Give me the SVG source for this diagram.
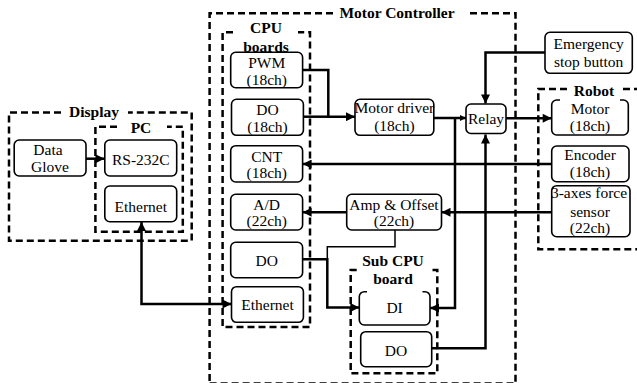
<svg xmlns="http://www.w3.org/2000/svg" width="637" height="383" viewBox="0 0 637 383">
<defs>
<style>
.grp{fill:none;stroke:#000;stroke-width:2.5;stroke-dasharray:7 4}
.box{fill:#fff;stroke:#000;stroke-width:1.6}
.t{font-family:"Liberation Serif","Times New Roman",serif;font-size:15.5px;text-anchor:middle;fill:#000}
.b{font-weight:bold}
.c{fill:none;stroke:#000;stroke-width:2.5}
.thin{fill:none;stroke:#000;stroke-width:1.5}
</style>
<marker id="arr" viewBox="0 0 10 10" refX="10" refY="5" markerWidth="10" markerHeight="9" markerUnits="userSpaceOnUse" orient="auto-start-reverse">
<path d="M0,0 L10,5 L0,10 z" fill="#000"/>
</marker>
<marker id="arrs" viewBox="0 0 10 10" refX="10" refY="5" markerWidth="6" markerHeight="6" markerUnits="userSpaceOnUse" orient="auto">
<path d="M0,0 L10,5 L0,10 z" fill="#000"/>
</marker>
</defs>
<rect width="637" height="383" fill="#fff"/>

<g id="groups">
<path class="grp" d="M333,13.3 H209.6 V390 M470,13.3 H515.5 V390"/>
<path class="grp" d="M209.6,383.6 H515.5" stroke="#888"/>
<text class="t b" x="397" y="18">Motor Controller</text>
<path class="grp" d="M233,32.3 H222.6 V327 H310 V32.3 H298"/>
<text class="t b" x="266" y="33">CPU</text>
<text class="t b" x="266" y="51.5">boards</text>
<path class="grp" d="M61,112.5 H9 V240.7 H191.7 V112.5 H128"/>
<text class="t b" x="94" y="117">Display</text>
<path class="grp" d="M117,126.7 H95.4 V231.7 H182.8 V126.7 H167"/>
<text class="t b" x="141" y="133">PC</text>
<path class="grp" d="M356.7,270 H350.7 V373.3 H437.3 V270 H431.7"/>
<text class="t b" x="393" y="266">Sub CPU</text>
<text class="t b" x="393" y="284">board</text>
<path class="grp" d="M567,89 H538.3 V249.3 H645 M623,89 H645"/>
<text class="t b" x="594" y="96">Robot</text>
</g>

<g id="connectors">
<path class="c" d="M86,158.7 H104.5" marker-end="url(#arr)"/>
<path class="c" d="M231.5,304 H141.5 V222" marker-start="url(#arr)" marker-end="url(#arr)"/>
<path class="c" d="M302.6,70 H328.3 V116.7 H355" marker-end="url(#arr)"/>
<path class="c" d="M303.4,116.7 H328.3"/>
<path class="c" d="M433.8,118 H466" marker-end="url(#arrs)"/>
<path class="c" d="M455,118 V308 H430" marker-end="url(#arr)"/>
<path class="c" d="M506,118.3 H551.7" marker-end="url(#arr)"/>
<path class="c" d="M545,52.5 H485.5 V103.5" marker-end="url(#arr)"/>
<path class="c" d="M551.7,164 H302.6" marker-end="url(#arr)"/>
<path class="c" d="M551.7,212.3 H441.5" marker-end="url(#arr)"/>
<path class="c" d="M346.7,212.3 H302.6" marker-end="url(#arr)"/>
<path class="thin" d="M395,230 V246.7 H327.3 V259.3"/>
<path class="c" d="M302,259.3 H327.3 V307.5 H359.3" marker-end="url(#arr)"/>
<path class="c" d="M431.7,348.3 H485.5 V134.5" marker-end="url(#arr)"/>
</g>

<g id="data-glove"><rect class="box" x="14.2" y="140" width="71.8" height="36" rx="5"/><text class="t" x="48" y="155">Data</text><text class="t" x="50" y="172">Glove</text></g>
<g id="rs232c"><rect class="box" x="104.8" y="140" width="71.9" height="36" rx="5"/><text class="t" x="140.8" y="165">RS-232C</text></g>
<g id="pc-ethernet"><rect class="box" x="104.8" y="186" width="71.9" height="35.7" rx="5"/><text class="t" x="140.8" y="211.5">Ethernet</text></g>

<g id="pwm"><rect class="box" x="230.7" y="52.3" width="71.9" height="35.4" rx="5"/><text class="t" x="266.7" y="68">PWM</text><text class="t" x="266.7" y="84.5">(18ch)</text></g>
<g id="do18"><rect class="box" x="231.5" y="99.3" width="71.9" height="36" rx="5"/><text class="t" x="267.5" y="115">DO</text><text class="t" x="267.5" y="131.5">(18ch)</text></g>
<g id="cnt"><rect class="box" x="230.7" y="145.7" width="71.9" height="36.3" rx="5"/><text class="t" x="266.7" y="161.5">CNT</text><text class="t" x="266.7" y="178">(18ch)</text></g>
<g id="ad"><rect class="box" x="230.7" y="194.3" width="71.9" height="35.7" rx="5"/><text class="t" x="266.7" y="209.5">A/D</text><text class="t" x="266.7" y="226">(22ch)</text></g>
<g id="do-cpu"><rect class="box" x="230.7" y="242.3" width="71.9" height="35.4" rx="5"/><text class="t" x="266.7" y="266">DO</text></g>
<g id="cpu-ethernet"><rect class="box" x="231.5" y="286.7" width="71.9" height="35.6" rx="5"/><text class="t" x="267.5" y="310">Ethernet</text></g>

<g id="motor-driver"><rect class="box" x="355" y="99.3" width="78.8" height="36" rx="5"/><text class="t" x="394.4" y="113">Motor driver</text><text class="t" x="394.4" y="130.5">(18ch)</text></g>
<g id="relay"><rect class="box" x="466" y="104" width="40" height="29.5" rx="5"/><text class="t" x="486" y="123.5">Relay</text></g>
<g id="amp-offset"><rect class="box" x="346.7" y="194.3" width="94.8" height="35.7" rx="5"/><text class="t" x="394" y="209.5">Amp &amp; Offset</text><text class="t" x="394" y="226">(22ch)</text></g>
<g id="di"><path class="box" d="M367,291.7 H364.3 A5,5 0 0 0 359.3,296.7 V320 A5,5 0 0 0 364.3,325 H425 A5,5 0 0 0 430,320 V296.7 A5,5 0 0 0 425,291.7 H422.5" fill="#fff"/><text class="t" x="394.6" y="313">DI</text></g>
<g id="do-sub"><rect class="box" x="360.7" y="331.7" width="71" height="35" rx="5"/><text class="t" x="396" y="356">DO</text></g>

<g id="emergency"><rect class="box" x="545" y="32.3" width="87.3" height="41" rx="5"/><text class="t" x="588.7" y="49.3">Emergency</text><text class="t" x="588.7" y="67">stop button</text></g>
<g id="robot-motor"><path class="box" d="M560,100 H556.7 A5,5 0 0 0 551.7,105 V130 A5,5 0 0 0 556.7,135 H623.3 A5,5 0 0 0 628.3,130 V105 A5,5 0 0 0 623.3,100 H620" fill="#fff"/><text class="t" x="590" y="114.3">Motor</text><text class="t" x="590" y="131">(18ch)</text></g>
<g id="encoder"><rect class="box" x="551.7" y="146" width="77.3" height="35.7" rx="5"/><text class="t" x="590" y="160">Encoder</text><text class="t" x="590" y="177">(18ch)</text></g>
<g id="force-sensor"><rect class="box" x="551.7" y="185.7" width="78.3" height="51" rx="5"/><text class="t" x="589" y="198.3">3-axes force</text><text class="t" x="590" y="216.7">sensor</text><text class="t" x="590" y="233">(22ch)</text></g>
</svg>
